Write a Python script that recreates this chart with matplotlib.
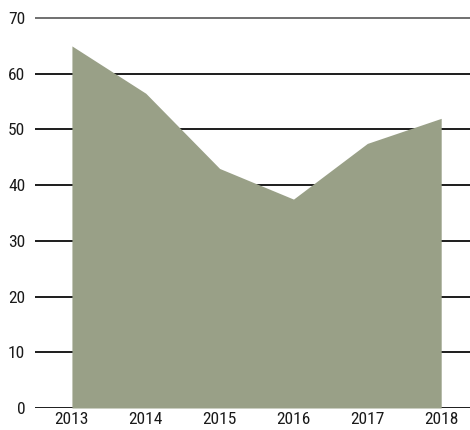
import matplotlib
matplotlib.use("Agg")
import matplotlib.pyplot as plt
from matplotlib import font_manager

years = [2013, 2014, 2015, 2016, 2017, 2018]
values = [65, 56.5, 43, 37.5, 47.5, 52]
y_ticks = [0, 10, 20, 30, 40, 50, 60, 70]

names = {f.name for f in font_manager.fontManager.ttflist}
family = "Roboto"
for cand in ["Liberation Sans Narrow", "Roboto Condensed", "Open Sans Condensed"]:
    if cand in names:
        family = cand
        break

fig = plt.figure(figsize=(4.7, 4.3), dpi=100)
ax = fig.add_axes([35 / 470, 22 / 430, 435 / 470, 398 / 430])

ax.set_xlim(2012.5, 2018.39)
ax.set_ylim(0, 71.45)

for t in y_ticks:
    color = "#707070" if t == 70 else "#1c1c1c"
    ax.axhline(t, color=color, lw=1.4, zorder=1)

ax.fill_between(years, values, 0, color="#99a087", lw=0, zorder=2)

for s in ax.spines.values():
    s.set_visible(False)
ax.set_yticks(y_ticks)
ax.set_xticks(years)
ax.tick_params(axis="both", length=0, labelsize=12.5, colors="#1a1a1a")
ax.tick_params(axis="y", pad=7)
ax.tick_params(axis="x", pad=3)
for lab in ax.get_xticklabels() + ax.get_yticklabels():
    lab.set_family(family)
    lab.set_weight("normal")

fig.savefig("out.png", dpi=100)
